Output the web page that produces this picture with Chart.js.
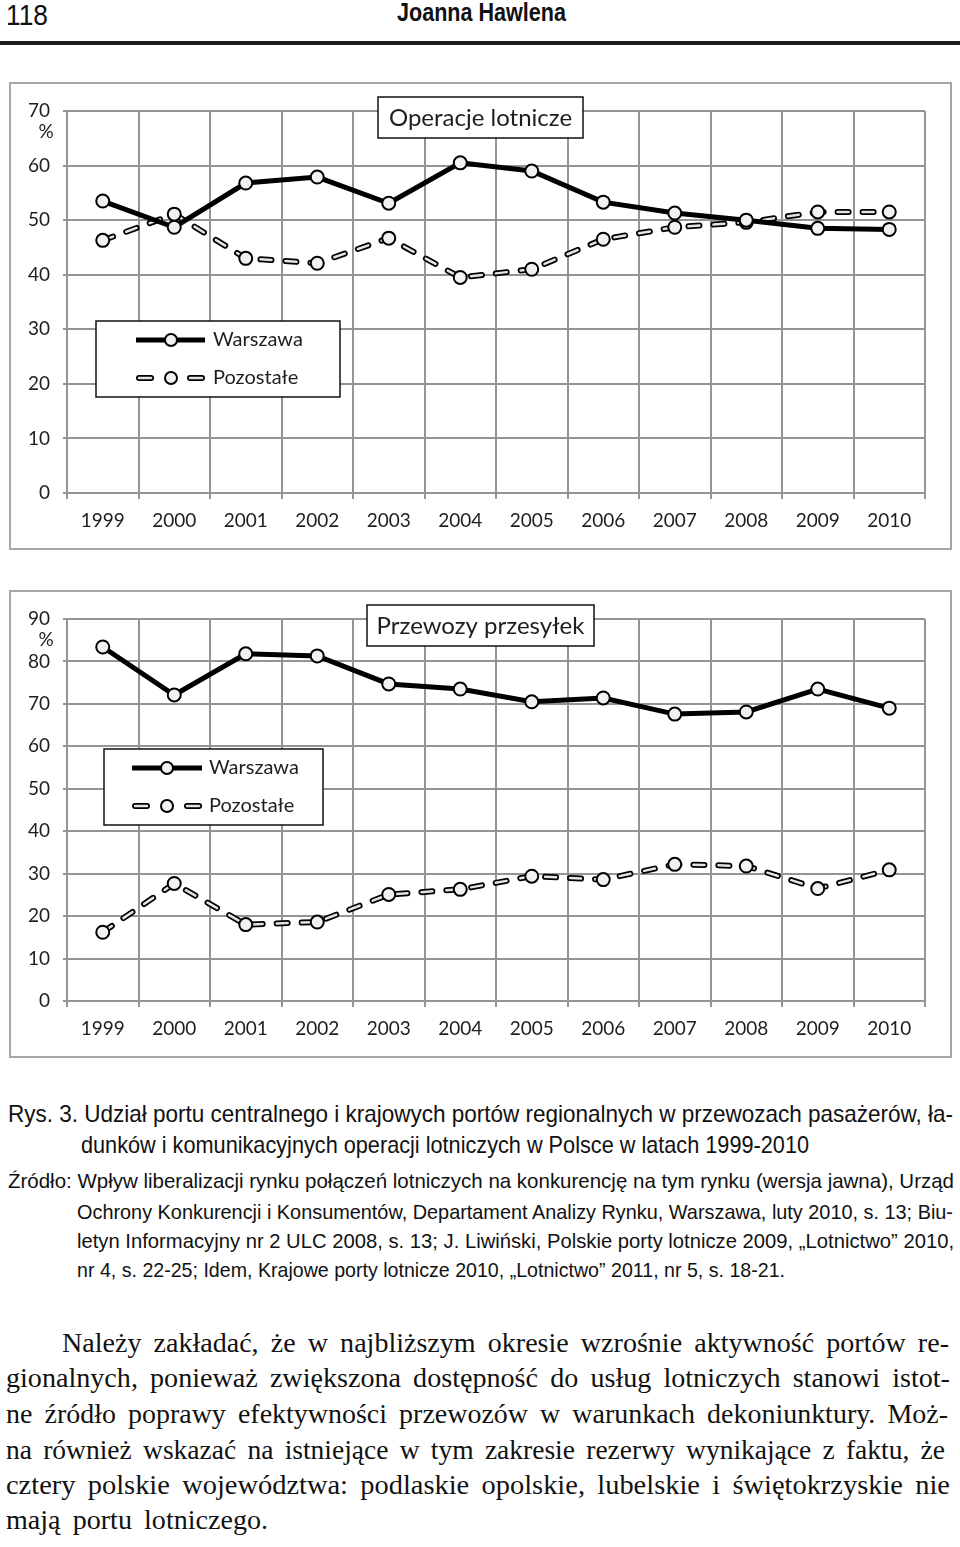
<!DOCTYPE html>
<html lang="pl">
<head>
<meta charset="UTF-8">
<title>Rys. 3 - Joanna Hawlena</title>
<script src="https://cdn.jsdelivr.net/npm/chart.js"></script>
<style>
    html, body { margin: 0; padding: 0; background: #fff; }
    #page { position: relative; width: 960px; height: 1547px; overflow: hidden; color: #111; }
    .frame { position: absolute; box-sizing: border-box; border: 2px solid #a6a6a6; }
    .chart { position: absolute; }
    .ln { position: absolute; height: 30px; line-height: 30px; white-space: nowrap; }
    .ln > span { display: inline-block; transform-origin: 0 50%; }
    .narrow { font-family: "Liberation Sans Narrow", "Arial Narrow", "Liberation Sans", Arial, sans-serif; }
    .cap { font-size: 24px; }
    .src { font-size: 21px; }
    .body { font-family: "Liberation Serif", "Times New Roman", serif; font-size: 27.5px; height: 36px; line-height: 36px; }
    .rule { position: absolute; left: 0; top: 41px; width: 960px; height: 4px; background: #1c1c1c; }
</style>
</head>
<body>
<div id="page">
    <div class="ln narrow" data-mode="sx" style="left:6px; top:0px; width:42px; font-size:29px;"><span>118</span></div>
    <div class="ln narrow" data-mode="sx" style="left:397px; top:-3px; width:169px; font-size:25px; font-weight:bold;"><span>Joanna Hawlena</span></div>
    <div class="rule"></div>

    <div class="frame" style="left:9px; top:82px; width:943px; height:468px;"></div>
    <canvas id="opsChart" class="chart" width="943" height="468" style="left:9px; top:82px;"></canvas>

    <div class="frame" style="left:9px; top:590px; width:943px; height:468px;"></div>
    <canvas id="cargoChart" class="chart" width="943" height="468" style="left:9px; top:590px;"></canvas>

    <!-- caption -->
    <div class="ln narrow cap" style="left:8px; top:1099px; width:945px;"><span>Rys. 3. Udział portu centralnego i krajowych portów regionalnych w przewozach pasażerów, ła-</span></div>
    <div class="ln narrow cap" style="left:81px; top:1130px; width:728px;"><span>dunków i komunikacyjnych operacji lotniczych w Polsce w latach 1999-2010</span></div>
    <div class="ln narrow src" style="left:8px; top:1166px; width:946px;"><span>Źródło: Wpływ liberalizacji rynku połączeń lotniczych na konkurencję na tym rynku (wersja jawna), Urząd</span></div>
    <div class="ln narrow src" style="left:77px; top:1197px; width:876px;"><span>Ochrony Konkurencji i Konsumentów, Departament Analizy Rynku, Warszawa, luty 2010, s. 13; Biu-</span></div>
    <div class="ln narrow src" style="left:77px; top:1226px; width:877px;"><span>letyn Informacyjny nr 2 ULC 2008, s. 13; J. Liwiński, Polskie porty lotnicze 2009, „Lotnictwo” 2010,</span></div>
    <div class="ln narrow src" style="left:77px; top:1255px; width:708px;"><span>nr 4, s. 22-25; Idem, Krajowe porty lotnicze 2010, „Lotnictwo” 2011, nr 5, s. 18-21.</span></div>

    <!-- body text -->
    <div class="ln body" style="left:62px; top:1325px; width:887px;"><span>Należy zakładać, że w najbliższym okresie wzrośnie aktywność portów re-</span></div>
    <div class="ln body" style="left:6px; top:1360px; width:944px;"><span>gionalnych, ponieważ zwiększona dostępność do usług lotniczych stanowi istot-</span></div>
    <div class="ln body" style="left:6px; top:1396px; width:942px;"><span>ne źródło poprawy efektywności przewozów w warunkach dekoniunktury. Moż-</span></div>
    <div class="ln body" style="left:6px; top:1432px; width:939px;"><span>na również wskazać na istniejące w tym zakresie rezerwy wynikające z faktu, że</span></div>
    <div class="ln body" style="left:6px; top:1467px; width:944px;"><span>cztery polskie województwa: podlaskie opolskie, lubelskie i świętokrzyskie nie</span></div>
    <div class="ln body" style="left:6px; top:1502px; width:262px;"><span>mają portu lotniczego.</span></div>
</div>

<script>
    // categories and series (percent shares)
    const years = ['1999', '2000', '2001', '2002', '2003', '2004', '2005', '2006', '2007', '2008', '2009', '2010'];
    const seriesNames = ['Warszawa', 'Pozostałe'];

    const opsWarszawa = [53.5, 48.7, 56.8, 57.9, 53.1, 60.5, 59.0, 53.3, 51.3, 50.0, 48.5, 48.3];
    const opsPozostale = [46.3, 51.1, 43.0, 42.1, 46.7, 39.5, 41.0, 46.5, 48.7, 49.6, 51.5, 51.5];

    const cargoWarszawa = [83.4, 72.1, 81.8, 81.3, 74.7, 73.5, 70.5, 71.4, 67.6, 68.1, 73.5, 69.0];
    const cargoPozostale = [16.2, 27.7, 18.0, 18.6, 25.1, 26.3, 29.4, 28.6, 32.2, 31.8, 26.5, 30.9];

    const opsTicks = [0, 10, 20, 30, 40, 50, 60, 70];
    const cargoTicks = [0, 10, 20, 30, 40, 50, 60, 70, 80, 90];

    const GRID = '#949494';
    const INK = '#1e1e1e';
    const MARKER_FILL = '#f1f1f1';
    const DASH = [11, 14];

    Chart.defaults.font.family = 'Lato, "Open Sans", sans-serif';
    Chart.defaults.color = INK;

    // title box, legend box and the "%" unit under the top tick
    const decor = {
        id: 'decor',
        afterDraw(chart, args, opts) {
            const ctx = chart.ctx;
            const area = chart.chartArea;
            ctx.save();

            ctx.fillStyle = INK;
            ctx.font = '19px Lato';
            ctx.textAlign = 'center';
            ctx.textBaseline = 'middle';
            ctx.fillText('%', 37, area.top + 21);

            const t = opts.title;
            ctx.fillStyle = '#fff';
            ctx.fillRect(t.x, t.y, t.w, t.h);
            ctx.strokeStyle = '#111';
            ctx.lineWidth = 1.5;
            ctx.strokeRect(t.x, t.y, t.w, t.h);
            ctx.fillStyle = INK;
            ctx.font = '24px Lato';
            ctx.fillText(t.text, t.x + t.w / 2, t.y + t.h / 2 + 1);

            const g = opts.legend;
            ctx.fillStyle = '#fff';
            ctx.fillRect(g.x, g.y, g.w, g.h);
            ctx.strokeRect(g.x, g.y, g.w, g.h);
            const ds = chart.data.datasets;

            // row 1: solid
            let y = g.rows[0];
            ctx.strokeStyle = '#000';
            ctx.lineWidth = 5;
            ctx.lineCap = 'butt';
            ctx.beginPath();
            ctx.moveTo(g.x1, y);
            ctx.lineTo(g.x2, y);
            ctx.stroke();
            drawMarker(ctx, g.mx, y);
            ctx.fillStyle = INK;
            ctx.font = '20px Lato';
            ctx.textAlign = 'left';
            ctx.fillText(ds[0].label, g.tx, y);

            // row 2: outlined dashes
            y = g.rows[1];
            ctx.lineCap = 'round';
            [[g.x1 + 3, g.x1 + 15], [g.x2 - 15, g.x2 - 3]].forEach(seg => {
                ctx.strokeStyle = '#000';
                ctx.lineWidth = 6;
                ctx.beginPath(); ctx.moveTo(seg[0], y); ctx.lineTo(seg[1], y); ctx.stroke();
                ctx.strokeStyle = '#e4e4e4';
                ctx.lineWidth = 2.5;
                ctx.beginPath(); ctx.moveTo(seg[0], y); ctx.lineTo(seg[1], y); ctx.stroke();
            });
            drawMarker(ctx, g.mx, y);
            ctx.fillStyle = INK;
            ctx.fillText(ds[1].label, g.tx, y);

            ctx.restore();
        }
    };

    function drawMarker(ctx, x, y) {
        ctx.beginPath();
        ctx.arc(x, y, 6, 0, Math.PI * 2);
        ctx.fillStyle = MARKER_FILL;
        ctx.fill();
        ctx.lineWidth = 2;
        ctx.strokeStyle = '#000';
        ctx.stroke();
    }

    function makeChart(id, dataW, dataP, ticks, title, legend) {
        const yMax = ticks[ticks.length - 1];
        return new Chart(document.getElementById(id), {
            type: 'line',
            data: {
                labels: years,
                datasets: [
                    {
                        label: seriesNames[0],
                        data: dataW,
                        borderColor: '#000',
                        borderWidth: 5,
                        pointRadius: 6.5,
                        pointBorderWidth: 2,
                        pointBorderColor: '#000',
                        pointBackgroundColor: MARKER_FILL,
                        tension: 0
                    },
                    {
                        label: seriesNames[1],
                        data: dataP,
                        borderColor: '#e4e4e4',
                        borderWidth: 2.5,
                        borderDash: DASH,
                        borderCapStyle: 'round',
                        pointRadius: 6.5,
                        pointBorderWidth: 2,
                        pointBorderColor: '#000',
                        pointBackgroundColor: MARKER_FILL,
                        tension: 0
                    },
                    {
                        label: seriesNames[1],
                        data: dataP,
                        borderColor: '#000',
                        borderWidth: 6,
                        borderDash: DASH,
                        borderCapStyle: 'round',
                        pointRadius: 0,
                        tension: 0
                    }
                ]
            },
            options: {
                responsive: false,
                animation: false,
                devicePixelRatio: 1,
                layout: { padding: { top: 29, right: 27, left: 0, bottom: 0 } },
                plugins: {
                    legend: { display: false },
                    tooltip: { enabled: false },
                    decor: { title: title, legend: legend }
                },
                scales: {
                    x: {
                        offset: true,
                        grid: { offset: true, color: GRID, lineWidth: 2, tickLength: 6 },
                        border: { color: GRID, width: 2 },
                        ticks: { color: INK, font: { size: 19 }, padding: 10, maxRotation: 0, autoSkip: false },
                        afterFit: s => { s.height = 57; }
                    },
                    y: {
                        min: 0,
                        max: yMax,
                        afterBuildTicks: s => { s.ticks = ticks.map(v => ({ value: v })); },
                        grid: { color: GRID, lineWidth: 2, tickLength: 4 },
                        border: { color: GRID, width: 2 },
                        ticks: { color: INK, font: { size: 19 }, padding: 13 },
                        afterFit: s => { s.width = 58; }
                    }
                }
            },
            plugins: [decor]
        });
    }

    makeChart('opsChart', opsWarszawa, opsPozostale, opsTicks,
        { text: 'Operacje lotnicze', x: 369, y: 15, w: 205, h: 41 },
        { x: 87, y: 239, w: 244, h: 76, rows: [258, 296], x1: 127, x2: 196, mx: 162, tx: 204 });

    makeChart('cargoChart', cargoWarszawa, cargoPozostale, cargoTicks,
        { text: 'Przewozy przesyłek', x: 358, y: 15, w: 227, h: 41 },
        { x: 95, y: 159, w: 219, h: 76, rows: [178, 216], x1: 123, x2: 193, mx: 158, tx: 200 });

    // stretch each printed line to its measured width (justified typesetting)
    function fitLines() {
        document.querySelectorAll('.ln').forEach(el => {
            const span = el.firstElementChild;
            const target = el.clientWidth;
            span.style.wordSpacing = '0px';
            span.style.transform = 'none';
            let w = span.getBoundingClientRect().width;
            const gaps = (span.textContent.match(/ /g) || []).length;
            if (el.dataset.mode !== 'sx' && w < target && gaps > 0) {
                const extra = Math.min((target - w) / gaps, 5);
                span.style.wordSpacing = extra + 'px';
                w = span.getBoundingClientRect().width;
            }
            if (Math.abs(w - target) > 0.5) {
                span.style.transform = 'scaleX(' + (target / w) + ')';
            }
        });
    }
    fitLines();
</script>
</body>
</html>
